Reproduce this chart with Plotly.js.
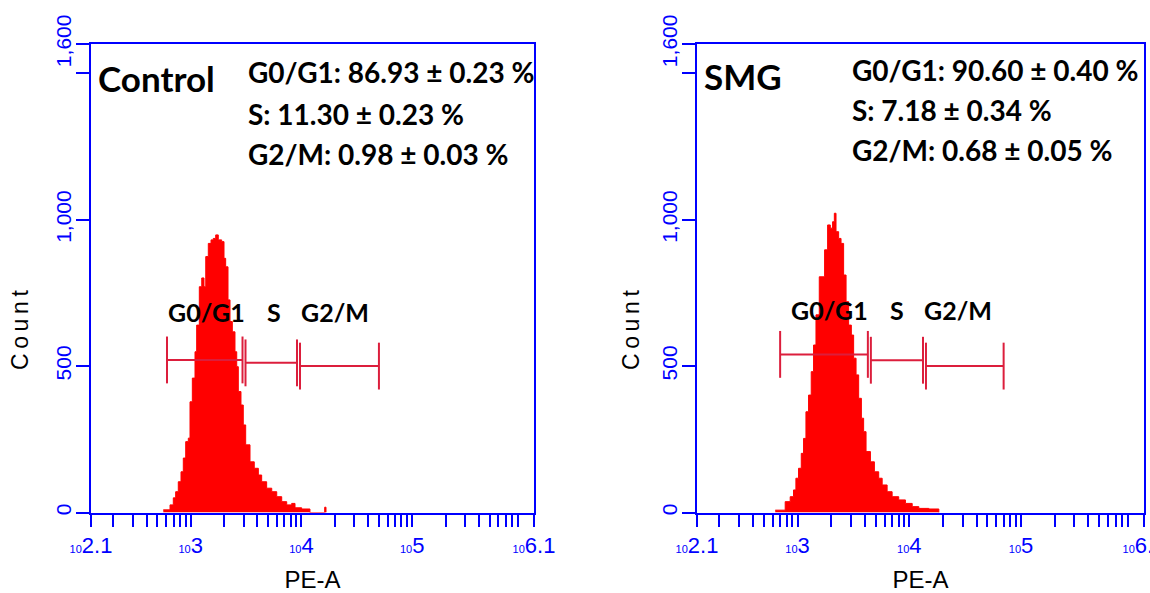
<!DOCTYPE html>
<html>
<head>
<meta charset="utf-8">
<script src="https://cdn.plot.ly/plotly-3.0.1.min.js"></script>
<style>html,body{margin:0;padding:0;background:#fff;}#chart{width:1150px;height:593px;}</style>
</head>
<body>
<div id="chart"></div>
<script>
// ---------- data ----------
const panelNames = ["Control", "SMG"];
const statsControl = ["G0/G1: 86.93 ± 0.23 %", "S: 11.30 ± 0.23 %", "G2/M: 0.98 ± 0.03 %"];
const statsSMG = ["G0/G1: 90.60 ± 0.40 %", "S: 7.18 ± 0.34 %", "G2/M: 0.68 ± 0.05 %"];
const gateNames = ["G0/G1", "S", "G2/M"];
const xTitle = "PE-A";
const yTitle = "Count";

// histogram step edges (PE-A) and counts, Control
const ctrlEdges = [566,651,697,732,773,818,858,902,952,986,1035,1094,1133,1197,1259,1319,1368,1443,1527,1600,1683,1775,1905,2000,2070,2173,2265,2377,2512,2605,2692,2846,2985,3138,3433,3750,4083,4375,4853,5395,5984,6637,7362,8166,8750,10050,11940,16220,16670];
const ctrlCounts = [9,26,50,71,105,139,186,242,254,378,459,549,640,771,801,771,874,919,931,936,948,931,925,868,839,726,652,617,549,498,413,367,299,231,173,151,128,105,83,71,54,37,26,31,16,12,0,18];
// histogram step edges and counts, SMG
const smgEdges = [631,775,859,920,966,1020,1079,1131,1188,1254,1325,1390,1461,1564,1745,1857,1963,2057,2133,2208,2330,2449,2582,2716,2864,3028,3175,3337,3521,3724,3900,4100,4487,4868,5321,5715,6328,7015,8035,9226,10610,12160,14940,18370];
const smgCounts = [8,37,54,77,117,151,202,253,344,401,481,572,675,805,897,982,971,993,1022,959,936,919,811,720,640,606,527,470,390,322,276,208,173,139,117,94,71,54,43,31,20,14,12];

// gates: start, end, level (count); half-height (count)
const ctrlGateStart = [611, 3126, 9710];
const ctrlGateEnd   = [2938, 9120, 50100];
const ctrlGateLevel = [521, 511, 500];
const smgGateStart  = [698, 4528, 14090];
const smgGateEnd    = [4256, 13250, 69800];
const smgGateLevel  = [540, 520, 500];
const gateHalf = 80;

// axes
const yTickVals = [0, 500, 1000, 1500, 1600];
const yTickText = ["0", "500", "1,000", "", "1,600"];
const xMajorVals = [Math.pow(10,2.1), 1e3, 1e4, 1e5, Math.pow(10,6.1)];
const xMajorText = ["2.1", "3", "4", "5", "6.1"];
const xRangeLog = [2.1, 6.1];
const yRange = [0, 1600];

// ---------- build ----------
const W = 1150, H = 593;
const BLUE = "#0000FF", RED = "#FF0000", GATE = "#DC1E3C";
const px = x => x / W, py = y => 1 - y / H;

// tick positions: majors plus n*10^k minors inside range
const xTickVals = [], xTickText = [];
const lo = Math.pow(10, xRangeLog[0]), hi = Math.pow(10, xRangeLog[1]);
for (let k = 2; k <= 6; k++) for (let n = 2; n <= 9; n++) {
  const v = n * Math.pow(10, k);
  if (v > lo * 1.01 && v < hi * 0.99) { xTickVals.push(v); xTickText.push(""); }
}
xMajorVals.forEach((v, i) => { xTickVals.push(v); xTickText.push('<span style="font-size:11px">10</span>' + xMajorText[i]); });

function histTrace(edges, counts, xa, ya) {
  return {type: "scatter", mode: "lines", x: edges, y: counts.concat([0]), line: {shape: "hv", color: RED, width: 1},
    fill: "tozeroy", fillcolor: RED, xaxis: xa, yaxis: ya, hoverinfo: "skip", showlegend: false};
}
function gateTrace(st, en, lv, xa, ya) {
  const x = [], y = [];
  for (let i = 0; i < st.length; i++) {
    x.push(st[i], st[i], null, st[i], en[i], null, en[i], en[i], null);
    y.push(lv[i] - gateHalf, lv[i] + gateHalf, null, lv[i], lv[i], null, lv[i] - gateHalf, lv[i] + gateHalf, null);
  }
  return {type: "scatter", mode: "lines", x, y, line: {color: GATE, width: 2}, xaxis: xa, yaxis: ya, hoverinfo: "skip", showlegend: false, connectgaps: false};
}

const data = [
  histTrace(ctrlEdges, ctrlCounts, "x", "y"),
  gateTrace(ctrlGateStart, ctrlGateEnd, ctrlGateLevel, "x", "y"),
  histTrace(smgEdges, smgCounts, "x2", "y2"),
  gateTrace(smgGateStart, smgGateEnd, smgGateLevel, "x2", "y2")
];

const SANS = "Liberation Sans, Arial, sans-serif";
function xAxis(domain) {
  return {type: "log", range: xRangeLog, domain, tickmode: "array", tickvals: xTickVals, ticktext: xTickText,
    ticks: "outside", ticklen: 12, tickwidth: 2, tickcolor: BLUE, showline: true, linecolor: BLUE, linewidth: 2,
    mirror: true, showgrid: false, zeroline: false, tickfont: {family: SANS, size: 22, color: BLUE}, tickangle: 0,
    ticklabeloverflow: "allow",
    title: {text: xTitle, font: {family: SANS, size: 24, color: "#000"}, standoff: 14}, fixedrange: true};
}
function yAxis(anchor) {
  return {range: yRange, domain: [py(512.5), py(44)], anchor, tickmode: "array", tickvals: yTickVals, ticktext: yTickText,
    ticks: "outside", ticklen: 13, tickwidth: 2, tickcolor: BLUE, showline: true, linecolor: BLUE, linewidth: 2,
    mirror: true, showgrid: false, zeroline: false, tickfont: {family: SANS, size: 21, color: BLUE}, tickangle: -90,
    ticklabelstandoff: -3, ticklabeloverflow: "allow", fixedrange: true};
}

const ann = [];
const txtFont = (s) => ({family: "Lato, 'Open Sans', sans-serif", size: s, color: "#000"});
function addText(text, x, y, size, anchor) {
  ann.push({text: "<b>" + text + "</b>", xref: "paper", yref: "paper", x: px(x), y: py(y), xanchor: anchor || "left",
    yanchor: "middle", showarrow: false, font: txtFont(size)});
}
// y-axis titles (placed like the reference, below the axis centre)
[20, 631].forEach(x => ann.push({text: yTitle.split("").join("\u2009"), xref: "paper", yref: "paper", x: px(x), y: py(330),
  xanchor: "center", yanchor: "middle", textangle: -90, showarrow: false, font: {family: SANS, size: 23, color: "#000"}}));
// Control panel
addText(panelNames[0], 96, 78, 35);
statsControl.forEach((t, i) => addText(t, 246, [72, 114, 154][i], 28));
[206, 274, 335].forEach((x, i) => addText(gateNames[i], x, 312, 25, "center"));
// SMG panel
addText(panelNames[1], 702, 76, 35);
statsSMG.forEach((t, i) => addText(t, 850, [70, 110, 150][i], 28));
[829, 897, 958].forEach((x, i) => addText(gateNames[i], x, 310, 25, "center"));

const layout = {
  width: W, height: H, margin: {l: 0, r: 0, t: 0, b: 0}, paper_bgcolor: "#fff", plot_bgcolor: "#fff",
  xaxis: xAxis([px(91), px(534)]), yaxis: yAxis("x"),
  xaxis2: xAxis([px(697), px(1144)]), yaxis2: yAxis("x2"),
  annotations: ann, showlegend: false
};
layout.xaxis.anchor = "y"; layout.xaxis2.anchor = "y2";

Plotly.newPlot("chart", data, layout, {staticPlot: true, displayModeBar: false});
</script>
</body>
</html>
